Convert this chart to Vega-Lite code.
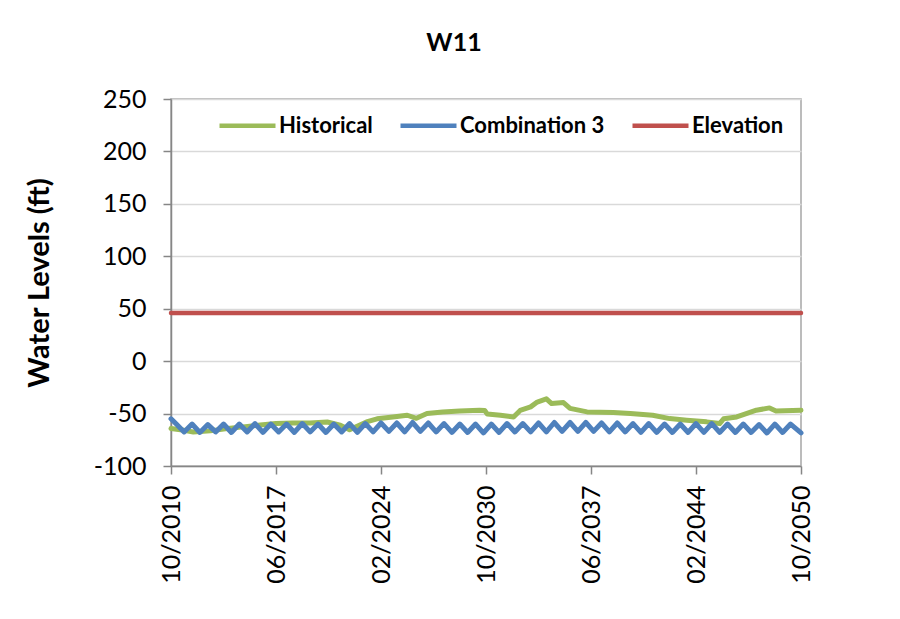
{
  "$schema": "https://vega.github.io/schema/vega-lite/v6.json",
  "width": 630,
  "height": 367,
  "autosize": {"type": "none"},
  "padding": {"left": 171, "top": 99, "right": 99, "bottom": 153},
  "background": "white",
  "title": {"text": "W11", "font": "Lato", "fontSize": 25, "fontWeight": "bold", "color": "black", "anchor": "middle", "frame": "group", "dx": -32, "offset": 31},
  "config": {"view": {"stroke": "#A6A6A6", "strokeWidth": 1.5}, "font": "Lato"},
  "data": {"values": [
    {"series": "Historical", "date": "2010-10-01", "level": -64.3},
    {"series": "Historical", "date": "2011-08-01", "level": -66},
    {"series": "Historical", "date": "2012-03-01", "level": -67.5},
    {"series": "Historical", "date": "2013-04-01", "level": -66.5},
    {"series": "Historical", "date": "2014-05-01", "level": -64.3},
    {"series": "Historical", "date": "2015-05-01", "level": -62.7},
    {"series": "Historical", "date": "2016-06-01", "level": -61},
    {"series": "Historical", "date": "2017-06-01", "level": -59.5},
    {"series": "Historical", "date": "2018-07-01", "level": -59},
    {"series": "Historical", "date": "2019-08-01", "level": -59},
    {"series": "Historical", "date": "2020-09-01", "level": -58},
    {"series": "Historical", "date": "2021-07-01", "level": -61},
    {"series": "Historical", "date": "2022-02-01", "level": -65.5},
    {"series": "Historical", "date": "2022-07-01", "level": -62.7},
    {"series": "Historical", "date": "2023-03-01", "level": -58},
    {"series": "Historical", "date": "2023-11-01", "level": -55},
    {"series": "Historical", "date": "2024-11-01", "level": -53.2},
    {"series": "Historical", "date": "2025-10-01", "level": -51.6},
    {"series": "Historical", "date": "2026-05-01", "level": -54.5},
    {"series": "Historical", "date": "2027-01-01", "level": -50},
    {"series": "Historical", "date": "2028-01-01", "level": -48.4},
    {"series": "Historical", "date": "2029-02-01", "level": -47.5},
    {"series": "Historical", "date": "2030-05-01", "level": -46.8},
    {"series": "Historical", "date": "2030-09-01", "level": -47},
    {"series": "Historical", "date": "2030-11-01", "level": -50.5},
    {"series": "Historical", "date": "2031-09-01", "level": -51.6},
    {"series": "Historical", "date": "2032-07-01", "level": -53.2},
    {"series": "Historical", "date": "2032-12-01", "level": -47},
    {"series": "Historical", "date": "2033-08-01", "level": -43.6},
    {"series": "Historical", "date": "2034-01-01", "level": -39},
    {"series": "Historical", "date": "2034-08-01", "level": -36},
    {"series": "Historical", "date": "2034-12-01", "level": -40.5},
    {"series": "Historical", "date": "2035-09-01", "level": -39.5},
    {"series": "Historical", "date": "2036-02-01", "level": -45},
    {"series": "Historical", "date": "2037-03-01", "level": -48.4},
    {"series": "Historical", "date": "2038-11-01", "level": -49},
    {"series": "Historical", "date": "2039-12-01", "level": -50},
    {"series": "Historical", "date": "2041-05-01", "level": -51.6},
    {"series": "Historical", "date": "2042-06-01", "level": -54.8},
    {"series": "Historical", "date": "2043-07-01", "level": -56.3},
    {"series": "Historical", "date": "2044-10-01", "level": -57.9},
    {"series": "Historical", "date": "2045-08-01", "level": -59.5},
    {"series": "Historical", "date": "2045-11-01", "level": -55},
    {"series": "Historical", "date": "2046-09-01", "level": -53.2},
    {"series": "Historical", "date": "2047-02-01", "level": -51},
    {"series": "Historical", "date": "2047-12-01", "level": -46.8},
    {"series": "Historical", "date": "2048-10-01", "level": -44.6},
    {"series": "Historical", "date": "2049-03-01", "level": -47.5},
    {"series": "Historical", "date": "2050-10-01", "level": -46.8},
    {"series": "Combination 3", "date": "2010-10-01", "level": -55},
    {"series": "Combination 3", "date": "2011-02-01", "level": -60},
    {"series": "Combination 3", "date": "2011-08-01", "level": -67.5},
    {"series": "Combination 3", "date": "2012-02-01", "level": -60},
    {"series": "Combination 3", "date": "2012-08-01", "level": -68},
    {"series": "Combination 3", "date": "2013-02-01", "level": -60.5},
    {"series": "Combination 3", "date": "2013-08-01", "level": -67.5},
    {"series": "Combination 3", "date": "2014-02-01", "level": -60},
    {"series": "Combination 3", "date": "2014-08-01", "level": -68},
    {"series": "Combination 3", "date": "2015-02-01", "level": -60},
    {"series": "Combination 3", "date": "2015-08-01", "level": -67.5},
    {"series": "Combination 3", "date": "2016-02-01", "level": -59.5},
    {"series": "Combination 3", "date": "2016-08-01", "level": -68},
    {"series": "Combination 3", "date": "2017-02-01", "level": -60},
    {"series": "Combination 3", "date": "2017-08-01", "level": -67.5},
    {"series": "Combination 3", "date": "2018-02-01", "level": -60},
    {"series": "Combination 3", "date": "2018-08-01", "level": -68},
    {"series": "Combination 3", "date": "2019-02-01", "level": -59.5},
    {"series": "Combination 3", "date": "2019-08-01", "level": -67.5},
    {"series": "Combination 3", "date": "2020-02-01", "level": -60},
    {"series": "Combination 3", "date": "2020-08-01", "level": -68},
    {"series": "Combination 3", "date": "2021-02-01", "level": -60},
    {"series": "Combination 3", "date": "2021-08-01", "level": -67.5},
    {"series": "Combination 3", "date": "2022-02-01", "level": -59.5},
    {"series": "Combination 3", "date": "2022-08-01", "level": -68},
    {"series": "Combination 3", "date": "2023-02-01", "level": -59.5},
    {"series": "Combination 3", "date": "2023-08-01", "level": -67.5},
    {"series": "Combination 3", "date": "2024-02-01", "level": -59},
    {"series": "Combination 3", "date": "2024-08-01", "level": -67},
    {"series": "Combination 3", "date": "2025-02-01", "level": -59},
    {"series": "Combination 3", "date": "2025-08-01", "level": -67.5},
    {"series": "Combination 3", "date": "2026-02-01", "level": -58.5},
    {"series": "Combination 3", "date": "2026-08-01", "level": -67},
    {"series": "Combination 3", "date": "2027-02-01", "level": -59},
    {"series": "Combination 3", "date": "2027-08-01", "level": -67.5},
    {"series": "Combination 3", "date": "2028-02-01", "level": -59.5},
    {"series": "Combination 3", "date": "2028-08-01", "level": -68},
    {"series": "Combination 3", "date": "2029-02-01", "level": -60},
    {"series": "Combination 3", "date": "2029-08-01", "level": -68},
    {"series": "Combination 3", "date": "2030-02-01", "level": -60},
    {"series": "Combination 3", "date": "2030-08-01", "level": -68.5},
    {"series": "Combination 3", "date": "2031-02-01", "level": -60},
    {"series": "Combination 3", "date": "2031-08-01", "level": -68},
    {"series": "Combination 3", "date": "2032-02-01", "level": -59.5},
    {"series": "Combination 3", "date": "2032-08-01", "level": -67.5},
    {"series": "Combination 3", "date": "2033-02-01", "level": -59.5},
    {"series": "Combination 3", "date": "2033-08-01", "level": -67.5},
    {"series": "Combination 3", "date": "2034-02-01", "level": -59},
    {"series": "Combination 3", "date": "2034-08-01", "level": -67.5},
    {"series": "Combination 3", "date": "2035-02-01", "level": -58.5},
    {"series": "Combination 3", "date": "2035-08-01", "level": -67},
    {"series": "Combination 3", "date": "2036-02-01", "level": -58.5},
    {"series": "Combination 3", "date": "2036-08-01", "level": -67},
    {"series": "Combination 3", "date": "2037-02-01", "level": -58.5},
    {"series": "Combination 3", "date": "2037-08-01", "level": -67},
    {"series": "Combination 3", "date": "2038-02-01", "level": -59},
    {"series": "Combination 3", "date": "2038-08-01", "level": -67.5},
    {"series": "Combination 3", "date": "2039-02-01", "level": -59},
    {"series": "Combination 3", "date": "2039-08-01", "level": -67.5},
    {"series": "Combination 3", "date": "2040-02-01", "level": -59.5},
    {"series": "Combination 3", "date": "2040-08-01", "level": -68},
    {"series": "Combination 3", "date": "2041-02-01", "level": -59.5},
    {"series": "Combination 3", "date": "2041-08-01", "level": -68},
    {"series": "Combination 3", "date": "2042-02-01", "level": -60},
    {"series": "Combination 3", "date": "2042-08-01", "level": -68},
    {"series": "Combination 3", "date": "2043-02-01", "level": -60},
    {"series": "Combination 3", "date": "2043-08-01", "level": -68},
    {"series": "Combination 3", "date": "2044-02-01", "level": -59.5},
    {"series": "Combination 3", "date": "2044-08-01", "level": -68},
    {"series": "Combination 3", "date": "2045-02-01", "level": -59.5},
    {"series": "Combination 3", "date": "2045-08-01", "level": -68},
    {"series": "Combination 3", "date": "2046-02-01", "level": -60},
    {"series": "Combination 3", "date": "2046-08-01", "level": -68},
    {"series": "Combination 3", "date": "2047-02-01", "level": -60},
    {"series": "Combination 3", "date": "2047-08-01", "level": -68},
    {"series": "Combination 3", "date": "2048-02-01", "level": -60.5},
    {"series": "Combination 3", "date": "2048-08-01", "level": -68.5},
    {"series": "Combination 3", "date": "2049-02-01", "level": -60},
    {"series": "Combination 3", "date": "2049-08-01", "level": -68},
    {"series": "Combination 3", "date": "2050-02-01", "level": -60},
    {"series": "Combination 3", "date": "2050-10-01", "level": -68.5},
    {"series": "Elevation", "date": "2010-10-01", "level": 46},
    {"series": "Elevation", "date": "2020-10-01", "level": 46},
    {"series": "Elevation", "date": "2030-10-01", "level": 46},
    {"series": "Elevation", "date": "2040-10-01", "level": 46},
    {"series": "Elevation", "date": "2050-10-01", "level": 46}
  ]},
  "encoding": {
    "x": {
      "field": "date", "type": "temporal",
      "scale": {"type": "utc", "domain": [{"year": 2010, "month": 10, "date": 1, "utc": true}, {"year": 2050, "month": 10, "date": 1, "utc": true}]},
      "axis": {
        "title": null,
        "values": [
          {"year": 2010, "month": 10, "date": 1, "utc": true},
          {"year": 2017, "month": 6, "date": 1, "utc": true},
          {"year": 2024, "month": 2, "date": 1, "utc": true},
          {"year": 2030, "month": 10, "date": 1, "utc": true},
          {"year": 2037, "month": 6, "date": 1, "utc": true},
          {"year": 2044, "month": 2, "date": 1, "utc": true},
          {"year": 2050, "month": 10, "date": 1, "utc": true}
        ],
        "format": "%m/%Y",
        "labelAngle": -90,
        "labelFlush": false,
        "labelOverlap": false,
        "grid": false,
        "domainColor": "#868686", "domainWidth": 1.5,
        "tickColor": "#868686", "tickWidth": 1.5, "tickSize": 8,
        "labelFont": "Lato", "labelFontSize": 25, "labelColor": "black", "labelPadding": 11
      }
    },
    "y": {
      "field": "level", "type": "quantitative",
      "scale": {"domain": [-100, 250], "nice": false, "zero": false},
      "axis": {
        "title": "Water Levels (ft)",
        "values": [-100, -50, 0, 50, 100, 150, 200, 250],
        "labelExpr": "toString(datum.value)",
        "grid": true, "gridColor": "#D9D9D9", "gridWidth": 1.3,
        "domainColor": "#868686", "domainWidth": 1.5,
        "tickColor": "#868686", "tickWidth": 1.5, "tickSize": 8,
        "labelFont": "Lato", "labelFontSize": 25, "labelColor": "black", "labelPadding": 17,
        "titleFont": "Lato", "titleFontSize": 29, "titleFontWeight": "bold", "titleColor": "black", "titlePadding": 39
      }
    },
    "color": {
      "field": "series", "type": "nominal",
      "scale": {"domain": ["Historical", "Combination 3", "Elevation"], "range": ["#9BBB59", "#4F81BD", "#C0504D"]},
      "legend": {
        "orient": "none", "legendX": 46, "legendY": -4, "direction": "horizontal", "title": null,
        "labelFont": "Lato", "labelFontSize": 22, "labelFontWeight": "bold", "labelColor": "black",
        "symbolType": "stroke", "symbolSize": 3136, "symbolStrokeWidth": 4.5,
        "labelOffset": 1, "columnPadding": 18, "padding": 0
      }
    }
  },
  "layer": [
    {"transform": [{"filter": "datum.series === 'Historical'"}], "mark": {"type": "line", "strokeWidth": 5, "strokeJoin": "round", "strokeCap": "round"}},
    {"transform": [{"filter": "datum.series === 'Combination 3'"}], "mark": {"type": "line", "strokeWidth": 5, "strokeJoin": "round", "strokeCap": "round"}},
    {"transform": [{"filter": "datum.series === 'Elevation'"}], "mark": {"type": "line", "strokeWidth": 4.5, "strokeJoin": "round", "strokeCap": "round"}}
  ]
}
